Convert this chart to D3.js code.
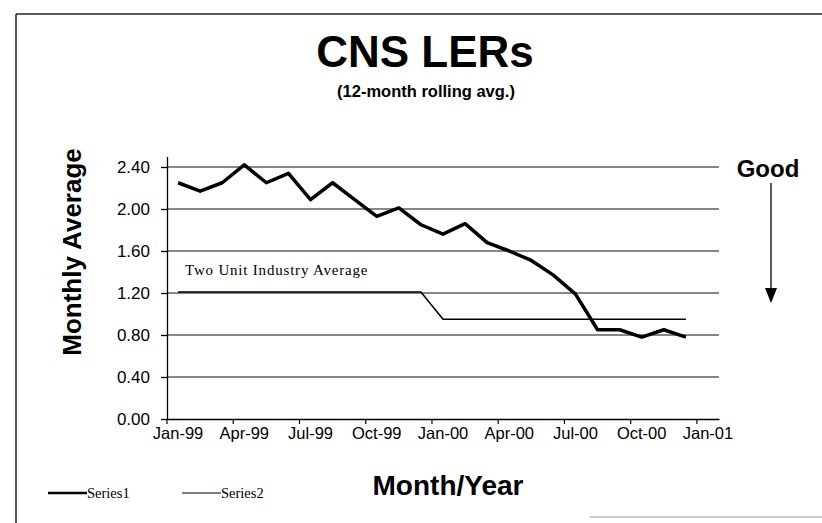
<!DOCTYPE html>
<html>
<head>
<meta charset="utf-8">
<script src="https://cdn.jsdelivr.net/npm/d3@7"></script>
<style>
  body { margin: 0; background: #fff; }
  svg { display: block; }
</style>
</head>
<body>
<div id="chart"></div>
<script>
// months on the date axis (one band per month)
var months = ['Jan-99','Feb-99','Mar-99','Apr-99','May-99','Jun-99','Jul-99','Aug-99','Sep-99','Oct-99','Nov-99','Dec-99',
              'Jan-00','Feb-00','Mar-00','Apr-00','May-00','Jun-00','Jul-00','Aug-00','Sep-00','Oct-00','Nov-00','Dec-00',
              'Jan-01'];
var tickLabels = ['Jan-99','Apr-99','Jul-99','Oct-99','Jan-00','Apr-00','Jul-00','Oct-00','Jan-01'];
var yTicks = [0, 0.4, 0.8, 1.2, 1.6, 2.0, 2.4];

// Series1: CNS LER 12-month rolling average
var series1 = [2.25, 2.17, 2.25, 2.42, 2.25, 2.34, 2.09, 2.25, 2.09, 1.93, 2.01, 1.85,
               1.76, 1.86, 1.68, 1.60, 1.51, 1.37, 1.19, 0.85, 0.85, 0.78, 0.85, 0.78];
// Series2: two unit industry average
var series2 = [1.21, 1.21, 1.21, 1.21, 1.21, 1.21, 1.21, 1.21, 1.21, 1.21, 1.21, 1.21,
               0.95, 0.95, 0.95, 0.95, 0.95, 0.95, 0.95, 0.95, 0.95, 0.95, 0.95, 0.95];

var W = 822, H = 523;
var sans = 'Liberation Sans, Arial, sans-serif';
var serif = 'Liberation Serif, Times New Roman, serif';
var svg = d3.select('#chart').append('svg').attr('width', W).attr('height', H);

// page frame
svg.append('line').attr('x1', 16).attr('x2', W).attr('y1', 14).attr('y2', 14)
   .attr('stroke', '#222').attr('stroke-width', 1.5);
svg.append('line').attr('x1', 16).attr('x2', 16).attr('y1', 14).attr('y2', H)
   .attr('stroke', '#222').attr('stroke-width', 1.5);
svg.append('line').attr('x1', 590).attr('x2', W).attr('y1', 517).attr('y2', 517)
   .attr('stroke', '#999').attr('stroke-width', 1);

var x = d3.scaleBand().domain(months).range([167, 719]).padding(0);
var y = d3.scaleLinear().domain([0, 2.5]).range([419, 156.5]);

// gridlines
svg.append('g').selectAll('line').data(yTicks.slice(1)).enter().append('line')
   .attr('x1', 167).attr('x2', 719)
   .attr('y1', function (d) { return y(d); }).attr('y2', function (d) { return y(d); })
   .attr('stroke', '#111').attr('stroke-width', 1.2);

// y axis
var yAxis = svg.append('g').attr('transform', 'translate(167,0)')
   .call(d3.axisLeft(y).tickValues(yTicks).tickFormat(d3.format('.2f')).tickSize(6).tickSizeOuter(0));
yAxis.selectAll('text').attr('font-family', sans)
   .attr('font-size', 17).attr('fill', '#000').attr('x', -17);
yAxis.selectAll('line, path').attr('stroke', '#000').attr('stroke-width', 1.3);

// x axis
var xAxis = svg.append('g').attr('transform', 'translate(0,419)')
   .call(d3.axisBottom(x).tickValues(tickLabels).tickSize(0).tickSizeOuter(0).tickPadding(8));
xAxis.selectAll('text').attr('font-family', sans)
   .attr('font-size', 16.5).attr('fill', '#000');
xAxis.selectAll('path').attr('stroke', '#000').attr('stroke-width', 1.3);
// tick marks sit at the start of each labelled month
xAxis.selectAll('.tick').append('line')
   .attr('x1', -x.bandwidth() / 2).attr('x2', -x.bandwidth() / 2)
   .attr('y1', 0).attr('y2', 5).attr('stroke', '#000').attr('stroke-width', 1.2);

var line = d3.line()
   .x(function (d, i) { return x(months[i]) + x.bandwidth() / 2; })
   .y(function (d) { return y(d); });

svg.append('path').datum(series2).attr('d', line)
   .attr('fill', 'none').attr('stroke', '#000').attr('stroke-width', 1.6);
svg.append('path').datum(series1).attr('d', line)
   .attr('fill', 'none').attr('stroke', '#000').attr('stroke-width', 3.5)
   .attr('stroke-linejoin', 'round');

// titles
svg.append('text').attr('x', 425).attr('y', 67).attr('text-anchor', 'middle')
   .attr('font-family', sans).attr('font-weight', 'bold')
   .attr('font-size', 44).text('CNS LERs');
svg.append('text').attr('x', 426).attr('y', 97).attr('text-anchor', 'middle')
   .attr('font-family', sans).attr('font-weight', 'bold')
   .attr('font-size', 16.5).text('(12-month rolling avg.)');
svg.append('text').attr('transform', 'translate(81,252) rotate(-90)').attr('text-anchor', 'middle')
   .attr('font-family', sans).attr('font-weight', 'bold')
   .attr('font-size', 26).text('Monthly Average');
svg.append('text').attr('x', 448).attr('y', 495).attr('text-anchor', 'middle')
   .attr('font-family', sans).attr('font-weight', 'bold')
   .attr('font-size', 28).text('Month/Year');

// annotation
svg.append('text').attr('x', 185).attr('y', 275)
   .attr('font-family', serif).attr('letter-spacing', 0.8)
   .attr('font-size', 15).text('Two Unit Industry Average');

// "Good" with downward arrow
svg.append('text').attr('x', 768).attr('y', 177).attr('text-anchor', 'middle')
   .attr('font-family', sans).attr('font-weight', 'bold')
   .attr('font-size', 24).text('Good');
svg.append('line').attr('x1', 771).attr('x2', 771).attr('y1', 183).attr('y2', 292)
   .attr('stroke', '#000').attr('stroke-width', 1.3);
svg.append('path').attr('d', 'M765,288 L777,288 L771,303 Z').attr('fill', '#000');

// legend
var legend = [{name: 'Series1', w: 2.5, x: 48}, {name: 'Series2', w: 1.2, x: 182}];
var lg = svg.append('g').selectAll('g').data(legend).enter().append('g')
   .attr('transform', function (d) { return 'translate(' + d.x + ',493)'; });
lg.append('line').attr('x1', 0).attr('x2', 39).attr('y1', 0).attr('y2', 0)
   .attr('stroke', '#000').attr('stroke-width', function (d) { return d.w; });
lg.append('text').attr('x', 39).attr('y', 5)
   .attr('font-family', serif)
   .attr('font-size', 14.5).text(function (d) { return d.name; });
</script>
</body>
</html>
